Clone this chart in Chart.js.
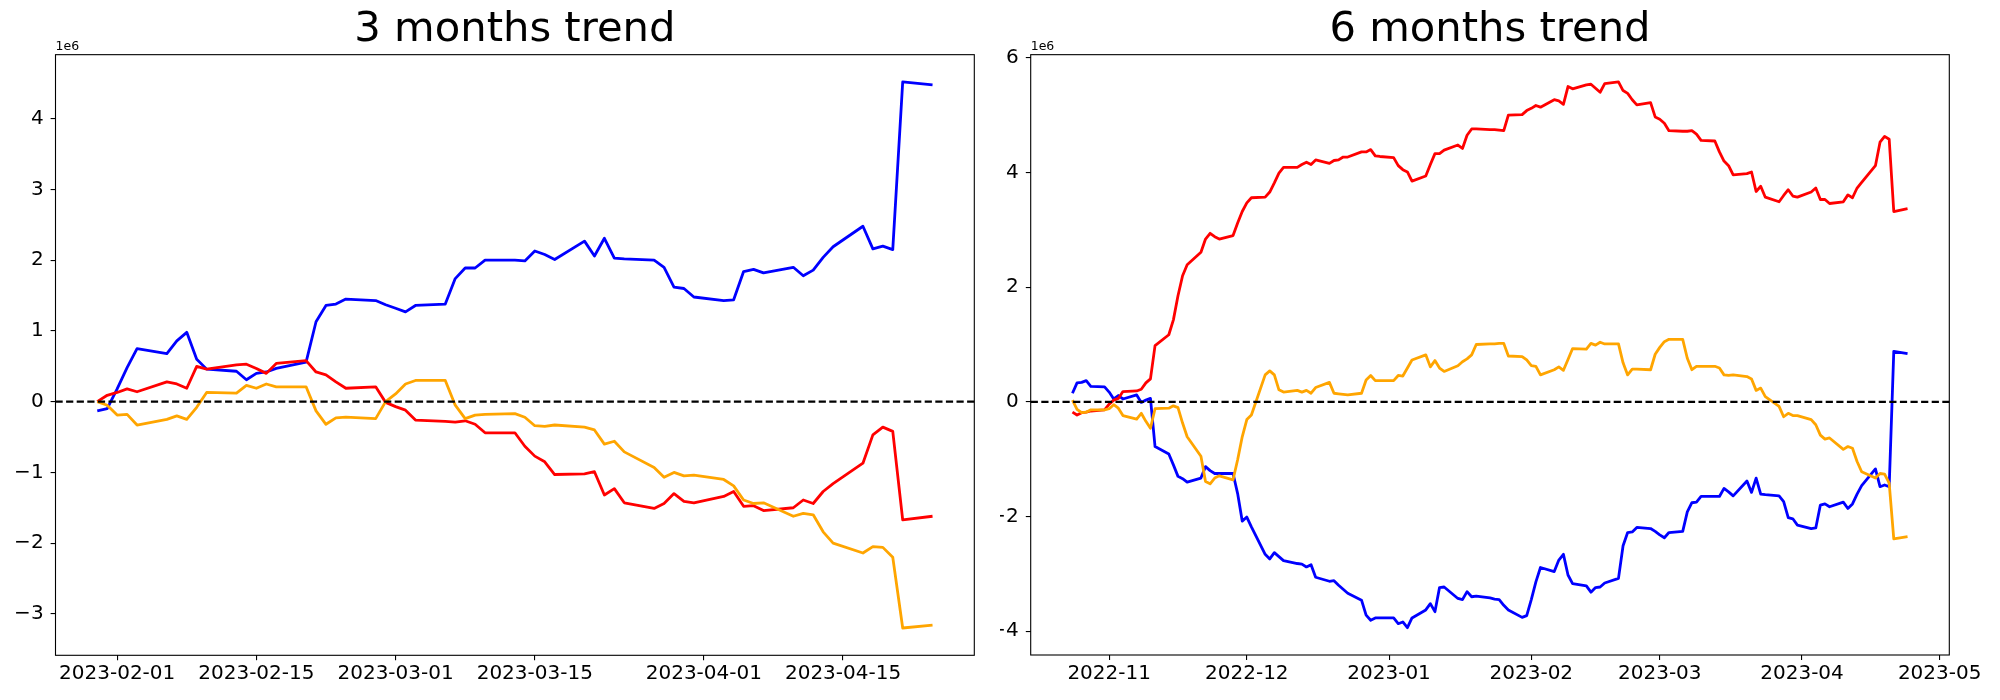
<!DOCTYPE html>
<html>
<head>
<meta charset="utf-8">
<script src="https://cdn.jsdelivr.net/npm/chart.js@4.4.0/dist/chart.umd.min.js"></script>
<style>
  html, body { margin: 0; padding: 0; background: #fff; }
  #wrap { position: relative; width: 2000px; height: 700px; }
  .box { position: absolute; top: 0; width: 1000px; height: 700px; }
</style>
</head>
<body>
<div id="wrap">
  <div class="box" style="left:0"><canvas id="chart3m"></canvas></div>
  <div class="box" style="left:1000px"><canvas id="chart6m"></canvas></div>
</div>
<script>
// ---- data (values in units of 1e6) ----
const leftDates = [
  '2023-01-30','2023-01-31','2023-02-01','2023-02-02','2023-02-03',
  '2023-02-06','2023-02-07','2023-02-08','2023-02-09','2023-02-10',
  '2023-02-13','2023-02-14','2023-02-15','2023-02-16','2023-02-17',
  '2023-02-20','2023-02-21','2023-02-22','2023-02-23','2023-02-24',
  '2023-02-27','2023-02-28','2023-03-01','2023-03-02','2023-03-03',
  '2023-03-06','2023-03-07','2023-03-08','2023-03-09','2023-03-10',
  '2023-03-13','2023-03-14','2023-03-15','2023-03-16','2023-03-17',
  '2023-03-20','2023-03-21','2023-03-22','2023-03-23','2023-03-24',
  '2023-03-27','2023-03-28','2023-03-29','2023-03-30','2023-03-31',
  '2023-04-03','2023-04-04','2023-04-05','2023-04-06','2023-04-07',
  '2023-04-10','2023-04-11','2023-04-12','2023-04-13','2023-04-14',
  '2023-04-17','2023-04-18','2023-04-19','2023-04-20','2023-04-21',
  '2023-04-24'
];
const leftBlue = [
  -0.13, -0.10, 0.18, 0.48, 0.75,
  0.68, 0.86, 0.98, 0.60, 0.46,
  0.43, 0.31, 0.40, 0.42, 0.47,
  0.56, 1.13, 1.36, 1.38, 1.45,
  1.43, 1.37, 1.32, 1.27, 1.36,
  1.38, 1.74, 1.89, 1.89, 2.00,
  2.00, 1.99, 2.13, 2.08, 2.01,
  2.27, 2.06, 2.31, 2.03, 2.02,
  2.00, 1.90, 1.62, 1.60, 1.48,
  1.43, 1.44, 1.84, 1.87, 1.82,
  1.90, 1.78, 1.86, 2.04, 2.19,
  2.48, 2.16, 2.20, 2.15, 4.52,
  4.48
];
const leftRed = [
  0.00, 0.09, 0.13, 0.18, 0.14,
  0.28, 0.25, 0.19, 0.50, 0.46,
  0.52, 0.53, 0.47, 0.40, 0.54,
  0.58, 0.42, 0.38, 0.28, 0.19,
  0.21, -0.01, -0.07, -0.12, -0.26,
  -0.28, -0.29, -0.27, -0.32, -0.44,
  -0.44, -0.63, -0.77, -0.85, -1.03,
  -1.02, -0.99, -1.32, -1.23, -1.43,
  -1.51, -1.44, -1.30, -1.41, -1.43,
  -1.34, -1.27, -1.48, -1.47, -1.54,
  -1.50, -1.39, -1.44, -1.27, -1.16,
  -0.87, -0.47, -0.36, -0.42, -1.67,
  -1.62
];
const leftOrange = [
  0.00, -0.05, -0.19, -0.18, -0.33,
  -0.25, -0.20, -0.25, -0.08, 0.13,
  0.12, 0.23, 0.19, 0.25, 0.21,
  0.21, -0.13, -0.32, -0.23, -0.22,
  -0.24, 0.00, 0.11, 0.25, 0.30,
  0.30, -0.05, -0.24, -0.19, -0.18,
  -0.17, -0.22, -0.34, -0.35, -0.33,
  -0.36, -0.40, -0.60, -0.56, -0.71,
  -0.93, -1.07, -1.00, -1.05, -1.04,
  -1.10, -1.19, -1.39, -1.44, -1.43,
  -1.62, -1.58, -1.60, -1.84, -2.00,
  -2.14, -2.05, -2.06, -2.20, -3.20,
  -3.16
];

const rightDates = [
  '2022-10-24','2022-10-25','2022-10-26','2022-10-27','2022-10-28',
  '2022-10-31','2022-11-01','2022-11-02','2022-11-03','2022-11-04',
  '2022-11-07','2022-11-08','2022-11-09','2022-11-10','2022-11-11',
  '2022-11-14','2022-11-15','2022-11-16','2022-11-17','2022-11-18',
  '2022-11-21','2022-11-22','2022-11-23','2022-11-24','2022-11-25',
  '2022-11-28','2022-11-29','2022-11-30','2022-12-01','2022-12-02',
  '2022-12-05','2022-12-06','2022-12-07','2022-12-08','2022-12-09',
  '2022-12-12','2022-12-13','2022-12-14','2022-12-15','2022-12-16',
  '2022-12-19','2022-12-20','2022-12-21','2022-12-22','2022-12-23',
  '2022-12-26','2022-12-27','2022-12-28','2022-12-29','2022-12-30',
  '2023-01-02','2023-01-03','2023-01-04','2023-01-05','2023-01-06',
  '2023-01-09','2023-01-10','2023-01-11','2023-01-12','2023-01-13',
  '2023-01-16','2023-01-17','2023-01-18','2023-01-19','2023-01-20',
  '2023-01-23','2023-01-24','2023-01-25','2023-01-26','2023-01-27',
  ...leftDates
];
const rightBlue = [
  0.15, 0.33, 0.34, 0.37, 0.27,
  0.26, 0.17, 0.05, 0.11, 0.05,
  0.12, -0.01, 0.03, 0.06, -0.78,
  -0.91, -1.10, -1.30, -1.34, -1.40,
  -1.33, -1.13, -1.20, -1.25, -1.25,
  -1.25, -1.60, -2.08, -2.01, -2.18,
  -2.66, -2.74, -2.63, -2.70, -2.77,
  -2.82, -2.83, -2.88, -2.84, -3.06,
  -3.13, -3.12, -3.20, -3.27, -3.34,
  -3.46, -3.72, -3.81, -3.77, -3.77,
  -3.77, -3.87, -3.84, -3.94, -3.77,
  -3.63, -3.52, -3.66, -3.24, -3.23,
  -3.43, -3.45, -3.31, -3.40, -3.39,
  -3.42, -3.44, -3.45, -3.55, -3.63,
  -3.76, -3.73, -3.45, -3.14, -2.89,
  -2.96, -2.76, -2.66, -3.02, -3.17,
  -3.21, -3.32, -3.24, -3.23, -3.16,
  -3.08, -2.51, -2.28, -2.27, -2.19,
  -2.21, -2.26, -2.32, -2.37, -2.28,
  -2.26, -1.92, -1.76, -1.75, -1.65,
  -1.65, -1.65, -1.51, -1.57, -1.64,
  -1.38, -1.58, -1.33, -1.61, -1.62,
  -1.64, -1.74, -2.02, -2.04, -2.15,
  -2.21, -2.20, -1.80, -1.78, -1.83,
  -1.75, -1.86, -1.78, -1.61, -1.46,
  -1.17, -1.48, -1.45, -1.48, 0.88,
  0.84
];
const rightRed = [
  -0.18, -0.23, -0.19, -0.18, -0.16,
  -0.14, -0.04, 0.03, 0.06, 0.18,
  0.19, 0.22, 0.33, 0.40, 0.98,
  1.17, 1.43, 1.85, 2.20, 2.39,
  2.61, 2.84, 2.94, 2.88, 2.84,
  2.90, 3.12, 3.32, 3.47, 3.56,
  3.57, 3.66, 3.82, 3.99, 4.09,
  4.09, 4.14, 4.18, 4.14, 4.22,
  4.16, 4.21, 4.22, 4.27, 4.27,
  4.36, 4.36, 4.40, 4.29, 4.28,
  4.26, 4.12, 4.05, 4.01, 3.85,
  3.94, 4.14, 4.33, 4.33, 4.39,
  4.48, 4.42, 4.65, 4.76, 4.76,
  4.75, 4.75, 4.74, 4.73, 5.00,
  5.01, 5.08, 5.12, 5.17, 5.14,
  5.27, 5.25, 5.19, 5.50, 5.46,
  5.53, 5.54, 5.47, 5.40, 5.55,
  5.58, 5.43, 5.38, 5.27, 5.18,
  5.22, 4.97, 4.93, 4.86, 4.73,
  4.72, 4.72, 4.73, 4.67, 4.56,
  4.55, 4.36, 4.20, 4.12, 3.96,
  3.98, 4.01, 3.67, 3.76, 3.57,
  3.49, 3.60, 3.70, 3.59, 3.57,
  3.66, 3.73, 3.53, 3.53, 3.46,
  3.49, 3.61, 3.56, 3.73, 3.83,
  4.12, 4.53, 4.63, 4.58, 3.32,
  3.37
];
const rightOrange = [
  0.03, -0.13, -0.19, -0.18, -0.14,
  -0.14, -0.12, -0.05, -0.11, -0.24,
  -0.30, -0.20, -0.34, -0.46, -0.12,
  -0.11, -0.07, -0.10, -0.37, -0.61,
  -0.95, -1.39, -1.43, -1.33, -1.29,
  -1.36, -1.01, -0.61, -0.31, -0.23,
  0.47, 0.54, 0.47, 0.21, 0.17,
  0.20, 0.17, 0.20, 0.15, 0.25,
  0.34, 0.15, 0.14, 0.13, 0.12,
  0.15, 0.38, 0.46, 0.37, 0.37,
  0.37, 0.46, 0.45, 0.59, 0.73,
  0.82, 0.61, 0.72, 0.59, 0.53,
  0.63, 0.70, 0.75, 0.82, 1.00,
  1.01, 1.01, 1.02, 1.02, 0.80,
  0.79, 0.73, 0.63, 0.62, 0.47,
  0.56, 0.61, 0.55, 0.74, 0.93,
  0.92, 1.02, 0.99, 1.04, 1.01,
  1.01, 0.68, 0.47, 0.57, 0.57,
  0.56, 0.83, 0.95, 1.05, 1.09,
  1.09, 0.76, 0.56, 0.62, 0.62,
  0.62, 0.59, 0.47, 0.46, 0.47,
  0.44, 0.40, 0.20, 0.24, 0.09,
  -0.08, -0.26, -0.20, -0.24, -0.24,
  -0.31, -0.40, -0.58, -0.65, -0.63,
  -0.83, -0.78, -0.81, -1.04, -1.22,
  -1.33, -1.25, -1.26, -1.42, -2.39,
  -2.35
];

const leftXTicks = ['2023-02-01', '2023-02-15', '2023-03-01', '2023-03-15', '2023-04-01', '2023-04-15'];
const rightXTicks = ['2022-11', '2022-12', '2023-01', '2023-02', '2023-03', '2023-04', '2023-05'];
const leftYTicks = [-3, -2, -1, 0, 1, 2, 3, 4];
const rightYTicks = [-4, -2, 0, 2, 4, 6];

// ---- drawing ----
const FONT = "'DejaVu Sans', sans-serif";

function toMs(s) {
  const p = s.split('-').map(Number);
  return Date.UTC(p[0], p[1] - 1, p[2] || 1);
}

function fmtY(v) {
  return v < 0 ? '\u2212' + Math.abs(v) : String(v);
}

// frame, zero line and the "1e6" offset text, like matplotlib
const axesDecor = {
  id: 'axesDecor',
  afterDatasetsDraw(chart) {
    const { ctx, chartArea: a } = chart;
    const y0 = chart.scales.y.getPixelForValue(0);
    ctx.save();
    ctx.strokeStyle = '#000';
    ctx.lineWidth = 2.4;
    ctx.setLineDash([7.2, 3.4]);
    ctx.beginPath();
    ctx.moveTo(a.left, y0);
    ctx.lineTo(a.right, y0);
    ctx.stroke();
    ctx.setLineDash([]);
    ctx.lineWidth = 1.1;
    ctx.strokeRect(a.left, a.top, a.right - a.left, a.bottom - a.top);
    ctx.fillStyle = '#000';
    ctx.font = '12.5px ' + FONT;
    ctx.textAlign = 'left';
    ctx.textBaseline = 'alphabetic';
    ctx.fillText('1e6', a.left, a.top - 4.6);
    ctx.restore();
  }
};

function makeChart(id, title, dates, blue, red, orange, xTicks, yTicks, box) {
  const xs = dates.map(toMs);
  const all = blue.concat(red, orange);
  const yMin = Math.min(...all), yMax = Math.max(...all);
  const yPad = (yMax - yMin) * 0.05;
  const xMin = xs[0], xMax = xs[xs.length - 1];
  const xPad = (xMax - xMin) * 0.05;
  const pts = arr => arr.map((v, i) => ({ x: xs[i], y: v }));
  const grid = {
    display: true, drawOnChartArea: false, drawTicks: true,
    tickLength: 4.9, tickWidth: 1.1, tickColor: '#000', color: '#000', lineWidth: 1.1
  };

  new Chart(document.getElementById(id), {
    type: 'line',
    data: {
      datasets: [
        { data: pts(blue), borderColor: '#0000ff', order: 3 },
        { data: pts(red), borderColor: '#ff0000', order: 2 },
        { data: pts(orange), borderColor: '#ffa500', order: 1 }
      ]
    },
    options: {
      responsive: true,
      maintainAspectRatio: false,
      animation: false,
      elements: {
        point: { radius: 0 },
        line: { borderWidth: 2.8, tension: 0, borderJoinStyle: 'round', fill: false }
      },
      layout: { padding: { left: 0, right: box.padRight, top: 0, bottom: 0 } },
      plugins: {
        legend: { display: false },
        tooltip: { enabled: false },
        title: {
          display: true, text: title, color: '#000', fullSize: false,
          font: { family: FONT, size: 41.7, weight: 'normal', lineHeight: 1.1 },
          padding: { top: 7.3, bottom: 1.5 }
        }
      },
      scales: {
        x: {
          type: 'linear',
          min: xMin - xPad,
          max: xMax + xPad,
          afterBuildTicks: s => { s.ticks = xTicks.map(t => ({ value: toMs(t) })); },
          afterFit: s => { s.height = box.xHeight; },
          grid: grid,
          border: { display: false },
          ticks: {
            autoSkip: false, maxRotation: 0, padding: 1.5, color: '#000',
            font: { family: FONT, size: 20 },
            callback: (v, i) => xTicks[i]
          }
        },
        y: {
          min: yMin - yPad,
          max: yMax + yPad,
          afterBuildTicks: s => { s.ticks = yTicks.map(t => ({ value: t })); },
          afterFit: s => { s.width = box.yWidth; },
          grid: grid,
          border: { display: false },
          ticks: {
            padding: 7, color: '#000',
            font: { family: FONT, size: 20 },
            callback: (v, i) => fmtY(yTicks[i])
          }
        }
      }
    },
    plugins: [axesDecor]
  });
}

makeChart('chart3m', '3 months trend', leftDates, leftBlue, leftRed, leftOrange,
  leftXTicks, leftYTicks, { yWidth: 55.5, padRight: 25.7, xHeight: 44.7 });
makeChart('chart6m', '6 months trend', rightDates, rightBlue, rightRed, rightOrange,
  rightXTicks, rightYTicks, { yWidth: 30.7, padRight: 50.7, xHeight: 45 });
</script>
</body>
</html>
